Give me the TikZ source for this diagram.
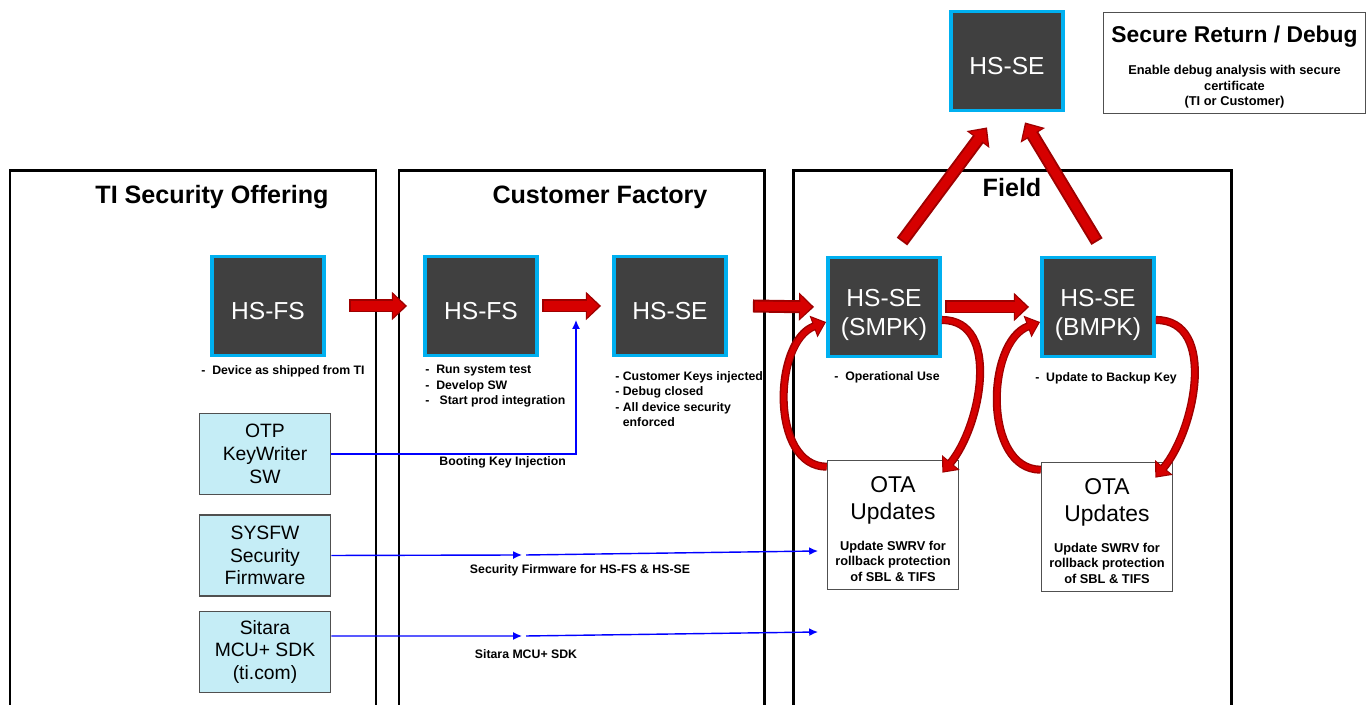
\documentclass[tikz,border=0pt]{standalone}
\usepackage{fontspec}
\setmainfont{Liberation Sans}
\usetikzlibrary{arrows.meta}
\definecolor{hsgray}{RGB}{64,64,64}
\definecolor{hscyan}{RGB}{0,176,240}
\definecolor{swblue}{RGB}{197,237,246}
\definecolor{arrred}{RGB}{214,0,0}
\definecolor{arrdark}{RGB}{158,0,0}
\definecolor{boxgray}{RGB}{80,80,80}
\newcommand{\smalllines}[1]{{\bfseries\fontsize{7.3}{8.8}\selectfont\begin{tabular}[t]{@{}c@{}}#1\end{tabular}}}

\begin{document}
\begin{tikzpicture}[x=0.02cm, y=0.02cm,
  panel/.style={draw, line width=1.7pt},
  ttl/.style={font=\bfseries\fontsize{14.3}{16}\selectfont},
  hs/.style={draw=hscyan, fill=hsgray, line width=2.2pt, text=white, minimum width=2.24cm, minimum height=1.98cm, align=center, font=\fontsize{14}{16.4}\selectfont},
  hsone/.style={hs, text height=15pt},
  sw/.style={draw=boxgray, fill=swblue, line width=0.9pt, minimum width=2.62cm, minimum height=1.62cm, align=center, font=\fontsize{11}{12.9}\selectfont},
  ota/.style={draw=boxgray, line width=0.9pt, minimum width=2.62cm, minimum height=2.58cm, inner ysep=1pt, align=center, font=\fontsize{13}{15.3}\selectfont},
  lbl/.style={font=\bfseries\fontsize{7}{8.8}\selectfont, align=left, inner sep=0pt},
  blk/.style={draw=arrred, line width=5.2pt, shorten >=1.3pt, shorten <=1.1pt, -{Triangle[length=6.6pt, width=12.6pt]},
    preaction={draw=arrdark, line width=7.4pt, shorten >=0pt, shorten <=0pt, -{Triangle[length=8.6pt, width=15.6pt]}}},
  crv/.style={draw=arrred, line width=3pt, shorten >=1pt, -{Triangle[length=6pt, width=10pt]},
    preaction={draw=arrdark, line width=4.6pt, shorten >=0pt, -{Triangle[length=7.6pt, width=12.6pt]}}},
  blu/.style={draw=blue, line width=0.8pt, -{Latex[length=5pt, width=4.5pt]}}
]
\useasboundingbox (0,0) rectangle (1369,705);

% panels
\draw[panel] (10,-10) |- (376,534) -- (376,-10);
\draw[panel] (399,-10) |- (764,534) -- (764,-10);
\draw[panel] (793,-10) |- (1231,534) -- (1231,-10);
\node[ttl] (tOffer) at (212,508) {TI Security Offering};
\node[ttl] (tFactory) at (600,508) {Customer Factory};
\node[ttl] (tField) at (1012,517) {Field};

% devices
\node[hsone] (fsA) at (268,399) {HS-FS};
\node[hsone] (fsB) at (481,399) {HS-FS};
\node[hsone] (seA) at (670,399) {HS-SE};
\node[hs] (smpk) at (884,398) {\rule{0pt}{19pt}HS-SE\\(SMPK)};
\node[hs] (bmpk) at (1098,398) {\rule{0pt}{19pt}HS-SE\\(BMPK)};
\node[hsone] (seTop) at (1007,644) {HS-SE};
\node[draw=boxgray, line width=0.9pt, minimum width=5.24cm, minimum height=2.02cm, inner ysep=1pt, align=center, font=\bfseries\fontsize{13}{15}\selectfont] (srd) at (1234.5,642) {\rule{0pt}{15.4pt}Secure Return / Debug\\[3pt]\smalllines{Enable debug analysis with secure\\certificate\\(TI or Customer)}};

% software
\node[sw] (otp) at (265,251) {OTP\\KeyWriter\\SW};
\node[sw] (sysfw) at (265,149.5) {SYSFW\\Security\\Firmware};
\node[sw] (sdk) at (265,53) {Sitara\\MCU+ SDK\\(ti.com)};

\node[ota] (otaA) at (893,180) {\rule{0pt}{16pt}OTA\\Updates\\[2.3pt]\smalllines{Update SWRV for\\rollback protection\\of SBL \& TIFS}};
\node[ota] (otaB) at (1107,178) {\rule{0pt}{16pt}OTA\\Updates\\[2.3pt]\smalllines{Update SWRV for\\rollback protection\\of SBL \& TIFS}};

% notes
\node[lbl] (shipA) at (283,334) {-~~Device as shipped from TI};
\node[lbl, anchor=north west] (testB) at (425,340) {-~~Run system test\\-~~Develop SW\\-~~~Start prod integration};
\node[lbl, anchor=north west] (keysA) at (615,334) {- Customer Keys injected\\- Debug closed\\- All device security\\\phantom{- }enforced};
\node[lbl] (useA) at (887,328) {-~~Operational Use};
\node[lbl] (useB) at (1106,327) {-~~Update to Backup Key};

% blue flows
\coordinate (keyIn) at (576,385);
\coordinate (fwA) at (522,150);
\coordinate (fwB) at (526,150);
\coordinate (fwC) at (818,154);
\coordinate (sdkA) at (522,69);
\coordinate (sdkB) at (526,69);
\coordinate (sdkC) at (818,73);
\draw[blu] (otp.east) -| (keyIn) node[lbl, pos=0.35, below=1pt] {Booting Key Injection};
\draw[blu] (sysfw.east) -- (fwA);
\draw[blu] (fwB) -- (fwC) node[lbl, pos=0.185, below=5.5pt] {Security Firmware for HS-FS \& HS-SE};
\draw[blu] ([yshift=0.32cm]sdk.east) -- (sdkA);
\draw[blu] (sdkB) -- (sdkC) node[lbl, pos=0, below=7.5pt] {Sitara MCU+ SDK};

% red flows
\draw[blk] ([xshift=0.46cm]fsA.east) -- ([xshift=-0.32cm]fsB.west);
\draw[blk] ([xshift=0.06cm]fsB.east) -- ([xshift=-0.22cm]seA.west);
\draw[blk] ([xshift=0.5cm]seA.east) -- ([xshift=-0.24cm]smpk.west);
\draw[blk] ([xshift=0.06cm]smpk.east) -- ([xshift=-0.22cm]bmpk.west);
\draw[blk] ([xshift=0.36cm,yshift=0.28cm]smpk.north) -- ([xshift=-0.4cm,yshift=-0.3cm]seTop.south);
\draw[blk] ([xshift=-0.02cm,yshift=0.28cm]bmpk.north) -- ([xshift=0.36cm,yshift=-0.2cm]seTop.south);
\draw[crv] ([yshift=-0.14cm]otaA.north west) to[out=180, in=200] ([yshift=-0.3cm]smpk.west);
\draw[crv] ([yshift=-0.26cm]smpk.east) to[out=0, in=50] ([xshift=-0.34cm, yshift=-0.26cm]otaA.north east);
\draw[crv] ([yshift=-0.16cm]otaB.north west) to[out=180, in=200] ([yshift=-0.3cm]bmpk.west);
\draw[crv] ([yshift=-0.26cm]bmpk.east) to[out=0, in=50] ([xshift=-0.36cm, yshift=-0.32cm]otaB.north east);
\end{tikzpicture}
\end{document}
